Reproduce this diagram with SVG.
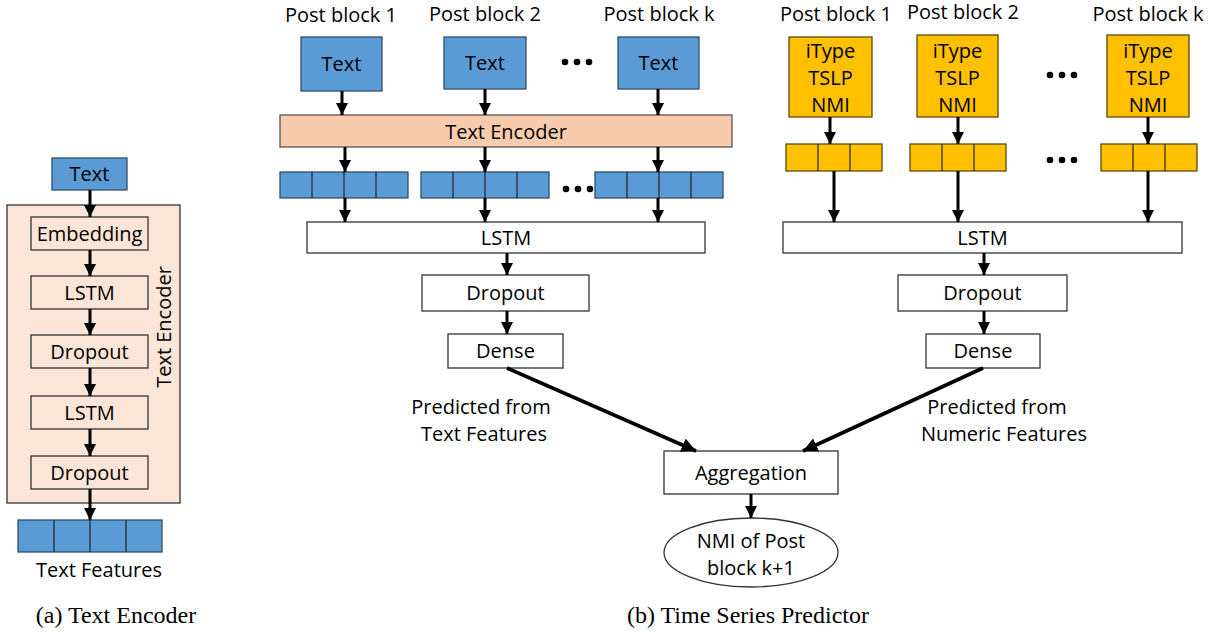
<svg xmlns="http://www.w3.org/2000/svg" width="1212" height="632" viewBox="0 0 1212 632">
<defs>
<marker id="ah" viewBox="0 0 10 10" refX="10" refY="5" markerWidth="4" markerHeight="4" markerUnits="strokeWidth" orient="auto">
<path d="M0,0 L10,5 L0,10 z" fill="#000"/>
</marker>
<style>
text{font-family:"Open Sans","Liberation Sans",sans-serif;fill:#000;text-anchor:middle}
.l{font-size:20px}
.cap{font-family:"Liberation Serif",serif;font-size:24px}
.blue{fill:#5B9BD5;stroke:#2F4F6F;stroke-width:1.3}
.yel{fill:#FFC000;stroke:#5a4a10;stroke-width:1.3}
.wh{fill:#fff;stroke:#333;stroke-width:1.3}
.pe{fill:#FBE5D6;stroke:#333;stroke-width:1.3}
.pe2{fill:#F8CBAD;stroke:#555;stroke-width:1.3}
.cell{stroke:#222;stroke-width:1.2}
.ar{stroke:#000;stroke-width:3;fill:none;marker-end:url(#ah)}
.ar2{stroke:#000;stroke-width:3.6;fill:none;marker-end:url(#ah)}
</style>
</defs>
<rect width="1212" height="632" fill="#fff"/>

<!-- (a) Text Encoder -->
<g id="enc-box"><rect class="pe" x="7" y="205" width="173" height="298"/>
<text class="l" transform="translate(166,327) rotate(-90)" dominant-baseline="middle">Text Encoder</text></g>
<g id="a-text"><rect class="blue" x="52" y="158" width="75" height="32"/><text class="l" x="89.5" y="181">Text</text></g>
<g id="a-emb"><rect class="pe" x="31" y="217" width="117" height="33"/><text class="l" x="89.5" y="241">Embedding</text></g>
<g id="a-lstm1"><rect class="pe" x="31" y="276" width="117" height="33"/><text class="l" x="89.5" y="300">LSTM</text></g>
<g id="a-drop1"><rect class="pe" x="31" y="335" width="117" height="33"/><text class="l" x="89.5" y="359">Dropout</text></g>
<g id="a-lstm2"><rect class="pe" x="31" y="396" width="117" height="33"/><text class="l" x="89.5" y="420">LSTM</text></g>
<g id="a-drop2"><rect class="pe" x="31" y="456" width="117" height="33"/><text class="l" x="89.5" y="480">Dropout</text></g>
<g id="a-feat"><rect class="blue" x="18" y="520" width="144" height="32"/>
<path class="cell" d="M54,520V552M90,520V552M126,520V552"/>
<text class="l" x="99" y="577">Text Features</text></g>
<text class="cap" x="116" y="623">(a) Text Encoder</text>

<!-- (b) text side -->
<g id="b-labels">
<text class="l" x="341" y="22">Post block 1</text>
<text class="l" x="485" y="21">Post block 2</text>
<text class="l" x="659" y="21">Post block k</text>
<text class="l" x="836" y="21">Post block 1</text>
<text class="l" x="963" y="19">Post block 2</text>
<text class="l" x="1148" y="21">Post block k</text>
</g>
<g id="t1"><rect class="blue" x="301" y="37" width="81" height="54"/><text class="l" x="341.5" y="71">Text</text></g>
<g id="t2"><rect class="blue" x="444" y="37" width="82" height="52"/><text class="l" x="485" y="70">Text</text></g>
<g id="t3"><rect class="blue" x="618" y="37" width="81" height="52"/><text class="l" x="658.5" y="70">Text</text></g>
<g id="dots"><g fill="#000">
<circle cx="565" cy="62" r="3.3"/><circle cx="577" cy="62" r="3.3"/><circle cx="589" cy="62" r="3.3"/>
<circle cx="566" cy="189" r="3.3"/><circle cx="578" cy="189" r="3.3"/><circle cx="590" cy="189" r="3.3"/>
<circle cx="1050" cy="75" r="3.3"/><circle cx="1062" cy="75" r="3.3"/><circle cx="1074" cy="75" r="3.3"/>
<circle cx="1050" cy="160" r="3.3"/><circle cx="1062" cy="160" r="3.3"/><circle cx="1074" cy="160" r="3.3"/>
</g></g>
<g id="b-enc"><rect class="pe2" x="280" y="115" width="452" height="32"/><text class="l" x="506" y="139">Text Encoder</text></g>
<g id="tv1"><rect class="blue" x="280" y="172" width="128" height="26"/><path class="cell" d="M312,172V198M344,172V198M376,172V198"/></g>
<g id="tv2"><rect class="blue" x="421" y="172" width="128" height="26"/><path class="cell" d="M453,172V198M485,172V198M517,172V198"/></g>
<g id="tv3"><rect class="blue" x="595" y="172" width="128" height="26"/><path class="cell" d="M627,172V198M659,172V198M691,172V198"/></g>
<g id="lstm-t"><rect class="wh" x="307" y="222" width="398" height="31"/><text class="l" x="506" y="245">LSTM</text></g>
<g id="drop-t"><rect class="wh" x="422" y="275" width="167" height="36"/><text class="l" x="505.5" y="300">Dropout</text></g>
<g id="dense-t"><rect class="wh" x="448" y="334" width="115" height="34"/><text class="l" x="505.5" y="358">Dense</text></g>
<g id="lab-t"><text class="l" x="481" y="414">Predicted from</text><text class="l" x="484" y="441">Text Features</text></g>

<!-- (b) numeric side -->
<g id="y1"><rect class="yel" x="789" y="37" width="83" height="80"/>
<text class="l" x="830.5" y="58">iType</text><text class="l" x="830.5" y="85">TSLP</text><text class="l" x="830.5" y="112">NMI</text></g>
<g id="y2"><rect class="yel" x="917" y="35" width="81" height="82"/>
<text class="l" x="957.5" y="58">iType</text><text class="l" x="957.5" y="85">TSLP</text><text class="l" x="957.5" y="112">NMI</text></g>
<g id="y3"><rect class="yel" x="1107" y="35" width="82" height="82"/>
<text class="l" x="1148" y="58">iType</text><text class="l" x="1148" y="85">TSLP</text><text class="l" x="1148" y="112">NMI</text></g>
<g id="yv1"><rect class="yel" x="786" y="144" width="96" height="27"/><path class="cell" d="M818,144V171M850,144V171"/></g>
<g id="yv2"><rect class="yel" x="910" y="144" width="96" height="27"/><path class="cell" d="M942,144V171M974,144V171"/></g>
<g id="yv3"><rect class="yel" x="1101" y="144" width="96" height="27"/><path class="cell" d="M1133,144V171M1165,144V171"/></g>
<g id="lstm-n"><rect class="wh" x="783" y="222" width="399" height="31"/><text class="l" x="982.5" y="245">LSTM</text></g>
<g id="drop-n"><rect class="wh" x="898" y="275" width="169" height="36"/><text class="l" x="982.5" y="300">Dropout</text></g>
<g id="dense-n"><rect class="wh" x="926" y="334" width="114" height="34"/><text class="l" x="983" y="358">Dense</text></g>
<g id="lab-n"><text class="l" x="997" y="414">Predicted from</text><text class="l" x="1004" y="441">Numeric Features</text></g>

<g id="agg"><rect class="wh" x="664" y="451" width="174" height="43"/><text class="l" x="751" y="480">Aggregation</text></g>
<g id="out"><ellipse class="wh" cx="751" cy="552.5" rx="87" ry="34.5"/>
<text class="l" x="751" y="548">NMI of Post</text><text class="l" x="751" y="575">block k+1</text></g>
<text class="cap" x="748" y="623">(b) Time Series Predictor</text>

<g id="connectors">
<path class="ar" d="M90,190V217"/>
<path class="ar" d="M90,250V276"/>
<path class="ar" d="M90,309V335"/>
<path class="ar" d="M90,368V396"/>
<path class="ar" d="M90,429V456"/>
<path class="ar" d="M90,489V520"/>
<path class="ar" d="M342,91V115"/>
<path class="ar" d="M485,89V115"/>
<path class="ar" d="M658,89V115"/>
<path class="ar" d="M345,147V172"/>
<path class="ar" d="M485,147V172"/>
<path class="ar" d="M658,147V172"/>
<path class="ar" d="M345,198V222"/>
<path class="ar" d="M485,198V222"/>
<path class="ar" d="M658,198V222"/>
<path class="ar" d="M507,253V275"/>
<path class="ar" d="M507,311V334"/>
<path class="ar" d="M830,117V144"/>
<path class="ar" d="M958,117V144"/>
<path class="ar" d="M1148,117V144"/>
<path class="ar" d="M834,171V222"/>
<path class="ar" d="M958,171V222"/>
<path class="ar" d="M1148,171V222"/>
<path class="ar" d="M984,253V275"/>
<path class="ar" d="M984,311V334"/>
<path class="ar2" d="M507,368L696,451"/>
<path class="ar2" d="M983,368L803,451"/>
<path class="ar" d="M751,494V518"/>
</g>
</svg>
